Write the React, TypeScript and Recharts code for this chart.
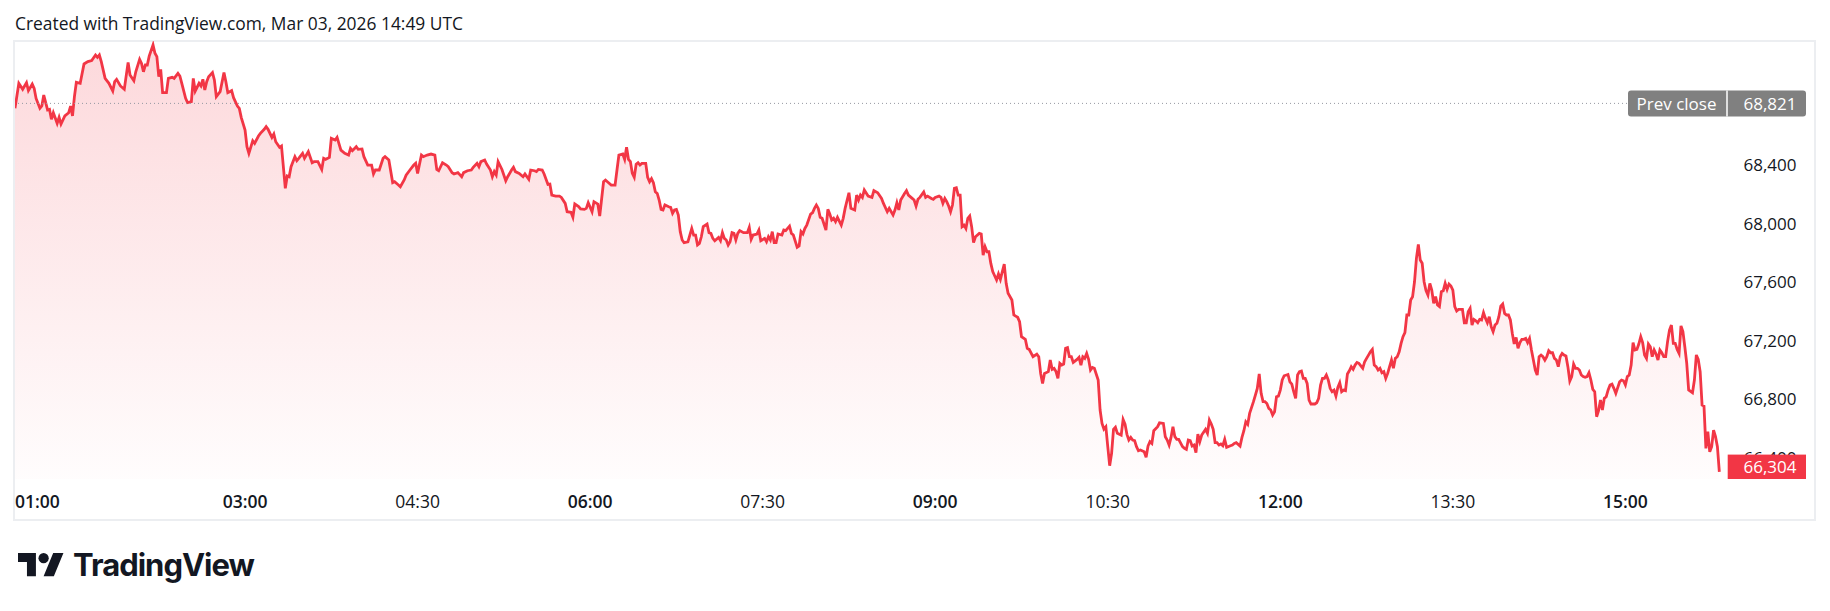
import React from 'react';
import { AreaChart, Area, XAxis, YAxis, ReferenceLine } from 'recharts';

// minutes after midnight (01:00 = 60), one row per ~10 samples
const times = [
  60, 62, 64, 66, 67, 69, 70, 71, 73, 74,
  75, 77, 78, 79, 80, 82, 83, 84, 86, 88,
  89, 90, 91, 92, 94, 96, 98, 100, 102, 103,
  104, 105, 107, 109, 111, 112, 113, 115, 117, 119,
  120, 122, 123, 125, 126, 127, 128, 129, 130, 132,
  133, 134, 135, 136, 137, 139, 140, 142, 143, 145,
  146, 147, 149, 150, 152, 153, 154, 156, 157, 158,
  159, 160, 161, 163, 164, 165, 167, 169, 170, 171,
  173, 174, 176, 177, 178, 180, 181, 182, 184, 185,
  187, 188, 190, 191, 192, 194, 195, 196, 198, 199,
  201, 202, 203, 204, 206, 207, 208, 210, 211, 212,
  213, 215, 216, 218, 220, 221, 222, 224, 225, 227,
  228, 230, 232, 234, 235, 236, 238, 239, 241, 242,
  244, 246, 247, 248, 250, 252, 253, 255, 257, 258,
  260, 261, 263, 264, 266, 268, 269, 270, 272, 273,
  275, 277, 279, 280, 281, 283, 285, 286, 288, 289,
  291, 293, 294, 296, 298, 299, 301, 302, 303, 305,
  306, 308, 309, 310, 311, 312, 314, 316, 317, 319,
  320, 321, 323, 325, 326, 328, 329, 331, 332, 333,
  335, 336, 338, 339, 340, 342, 344, 345, 347, 348,
  350, 351, 352, 354, 355, 357, 358, 359, 361, 362,
  364, 365, 367, 368, 369, 371, 373, 374, 375, 377,
  378, 379, 380, 381, 382, 383, 384, 385, 386, 387,
  389, 390, 391, 392, 393, 394, 395, 396, 397, 398,
  399, 401, 402, 403, 404, 405, 406, 407, 408, 409,
  411, 412, 413, 414, 415, 416, 417, 418, 419, 421,
  422, 423, 424, 425, 427, 428, 429, 430, 431, 432,
  433, 434, 435, 436, 437, 438, 440, 442, 443, 444,
  445, 447, 448, 449, 451, 452, 453, 454, 455, 456,
  457, 458, 460, 461, 462, 464, 465, 466, 468, 469,
  470, 471, 472, 473, 475, 476, 477, 478, 479, 480,
  481, 483, 484, 485, 486, 487, 488, 489, 491, 492,
  493, 495, 496, 498, 499, 500, 501, 502, 503, 505,
  507, 508, 510, 512, 513, 515, 516, 518, 519, 520,
  521, 522, 524, 525, 526, 528, 529, 530, 531, 532,
  534, 535, 536, 538, 539, 540, 542, 543, 544, 545,
  546, 547, 548, 549, 550, 551, 552, 553, 554, 555,
  556, 557, 558, 559, 560, 561, 563, 564, 565, 566,
  567, 568, 569, 570, 572, 573, 574, 576, 577, 578,
  580, 581, 583, 584, 585, 587, 588, 589, 591, 593,
  594, 595, 596, 597, 599, 600, 601, 602, 603, 604,
  605, 606, 607, 608, 609, 610, 611, 612, 614, 615,
  616, 617, 618, 619, 620, 621, 622, 623, 625, 626,
  627, 628, 629, 630, 631, 632, 633, 634, 635, 637,
  638, 639, 640, 641, 642, 643, 644, 645, 646, 647,
  649, 650, 651, 652, 653, 654, 656, 657, 659, 660,
  661, 662, 663, 664, 665, 666, 667, 669, 670, 671,
  672, 673, 674, 675, 676, 677, 678, 679, 681, 682,
  683, 684, 685, 686, 687, 688, 689, 690, 691, 692,
  694, 695, 696, 697, 699, 700, 701, 702, 703, 704,
  706, 707, 708, 709, 710, 711, 712, 713, 714, 715,
  716, 717, 718, 719, 720, 721, 722, 724, 725, 726,
  727, 728, 729, 730, 731, 732, 733, 734, 735, 736,
  738, 739, 740, 741, 742, 743, 744, 745, 746, 747,
  748, 749, 750, 751, 752, 753, 754, 755, 756, 757,
  758, 759, 760, 761, 763, 764, 765, 766, 767, 768,
  769, 770, 771, 772, 773, 774, 775, 776, 777, 778,
  779, 780, 781, 782, 783, 784, 785, 786, 787, 788,
  789, 790, 791, 792, 793, 794, 795, 796, 797, 798,
  799, 800, 801, 802, 803, 804, 805, 806, 807, 808,
  809, 810, 811, 812, 813, 814, 815, 816, 817, 818,
  819, 820, 821, 822, 823, 824, 825, 826, 827, 828,
  829, 830, 831, 832, 833, 834, 835, 836, 837, 838,
  839, 840, 841, 842, 843, 844, 845, 846, 847, 848,
  849, 850, 851, 852, 853, 854, 855, 856, 857, 858,
  859, 860, 861, 862, 863, 864, 865, 866, 867, 868,
  869, 870, 871, 872, 873, 874, 875, 876, 877, 878,
  879, 880, 881, 882, 883, 884, 885, 886, 887, 888,
  889, 890, 891, 892, 893, 894, 895, 897, 898, 899,
  900, 901, 902, 903, 904, 905, 906, 907, 908, 909,
  910, 911, 912, 913, 914, 915, 916, 917, 918, 919,
  920, 921, 922, 923, 924, 925, 926, 927, 928, 929,
  930, 931, 932, 933, 935, 936, 937, 938, 939, 940,
  941, 942, 943, 944, 945, 946, 947, 948, 949,
];

const prices = [
  68787, 68958, 68917, 68962, 68908, 68953, 68924, 68855, 68787, 68803,
  68878, 68776, 68780, 68712, 68757, 68685, 68726, 68680, 68735, 68757,
  68803, 68735, 68867, 68965, 68958, 69090, 69106, 69113, 69151, 69135,
  69151, 69106, 68992, 68958, 68905, 68969, 68985, 68940, 68917, 69101,
  69015, 68976, 69037, 69122, 69094, 69037, 69083, 69083, 69144, 69220,
  69163, 69140, 69003, 69053, 68894, 68894, 68992, 68999, 68992, 69026,
  69008, 68958, 68855, 68826, 68833, 68992, 68905, 68958, 68940, 68985,
  68912, 68969, 69003, 69031, 68981, 68867, 68901, 69031, 68969, 68894,
  68908, 68860, 68803, 68787, 68726, 68639, 68525, 68480, 68566, 68548,
  68598, 68616, 68644, 68662, 68644, 68589, 68612, 68559, 68521, 68530,
  68241, 68325, 68320, 68389, 68457, 68430, 68446, 68480, 68446, 68468,
  68491, 68416, 68423, 68423, 68370, 68446, 68439, 68452, 68582, 68571,
  68589, 68502, 68480, 68468, 68514, 68498, 68525, 68507, 68510, 68457,
  68400, 68400, 68339, 68366, 68366, 68446, 68457, 68434, 68280, 68286,
  68264, 68252, 68298, 68330, 68366, 68400, 68412, 68343, 68468, 68457,
  68468, 68475, 68468, 68370, 68361, 68416, 68400, 68389, 68348, 68339,
  68348, 68320, 68348, 68361, 68366, 68384, 68412, 68389, 68423, 68434,
  68407, 68366, 68320, 68355, 68332, 68423, 68370, 68293, 68320, 68366,
  68384, 68355, 68343, 68320, 68339, 68302, 68366, 68361, 68355, 68370,
  68366, 68339, 68268, 68270, 68195, 68188, 68188, 68179, 68138, 68081,
  68077, 68043, 68134, 68116, 68100, 68097, 68104, 68143, 68081, 68150,
  68134, 68052, 68286, 68297, 68286, 68263, 68263, 68366, 68468, 68475,
  68439, 68521, 68439, 68423, 68343, 68316, 68405, 68416, 68400, 68411,
  68411, 68316, 68286, 68307, 68279, 68218, 68206, 68161, 68097, 68093,
  68127, 68115, 68111, 68070, 68093, 68097, 68059, 67945, 67888, 67870,
  67876, 67922, 67967, 67922, 67922, 67854, 67865, 67910, 67979, 67997,
  67938, 67933, 67899, 67883, 67906, 67883, 67938, 67899, 67888, 67854,
  67876, 67938, 67933, 67888, 67933, 67952, 67938, 67938, 67974, 67892,
  67922, 67929, 67956, 67883, 67899, 67876, 67910, 67888, 67945, 67870,
  67870, 67929, 67922, 67956, 67952, 67983, 67933, 67922, 67838, 67847,
  67945, 67929, 67967, 67990, 68065, 68074, 68104, 68127, 68104, 68043,
  68036, 67956, 68097, 68065, 68024, 68036, 68013, 68043, 67990, 68036,
  68104, 68211, 68104, 68093, 68195, 68161, 68195, 68179, 68229, 68188,
  68179, 68225, 68211, 68172, 68138, 68081, 68104, 68059, 68093, 68143,
  68093, 68161, 68206, 68225, 68195, 68172, 68161, 68120, 68166, 68179,
  68216, 68179, 68188, 68172, 68166, 68179, 68188, 68179, 68138, 68172,
  68150, 68120, 68081, 68127, 68241, 68245, 68195, 68195, 67979, 67990,
  67967, 68036, 68052, 67979, 67870, 67910, 67933, 67929, 67785, 67842,
  67808, 67808, 67728, 67672, 67615, 67656, 67619, 67724, 67592, 67524,
  67478, 67376, 67360, 67330, 67228, 67210, 67148, 67141, 67091, 67109,
  67091, 66977, 66909, 66977, 66989, 67068, 67005, 67012, 66989, 66943,
  67046, 67034, 67041, 67148, 67153, 67091, 67091, 67052, 67073, 67087,
  67034, 67091, 67080, 67114, 67073, 67000, 67018, 67012, 66932, 66727,
  66636, 66597, 66613, 66477, 66347, 66431, 66595, 66609, 66568, 66556,
  66663, 66631, 66561, 66522, 66540, 66522, 66518, 66477, 66449, 66454,
  66442, 66404, 66481, 66511, 66499, 66586, 66613, 66640, 66636, 66545,
  66522, 66488, 66540, 66613, 66545, 66527, 66527, 66477, 66465, 66458,
  66522, 66518, 66481, 66488, 66436, 66563, 66511, 66556, 66595, 66568,
  66659, 66631, 66595, 66504, 66504, 66488, 66495, 66483, 66527, 66472,
  66483, 66488, 66499, 66504, 66481, 66540, 66586, 66647, 66629, 66704,
  66784, 66829, 66875, 66973, 66841, 66784, 66784, 66772, 66738, 66727,
  66693, 66715, 66818, 66822, 66863, 66932, 66961, 66970, 66920, 66904,
  66852, 66807, 66966, 66989, 66993, 66943, 66943, 66909, 66795, 66768,
  66768, 66777, 66807, 66898, 66943, 66943, 66966, 66932, 66875, 66852,
  66863, 66822, 66882, 66914, 66852, 66863, 66859, 66973, 66995, 67023,
  67005, 67034, 67052, 67046, 67012, 67057, 67080, 67102, 67125, 67141,
  67034, 67023, 67000, 67012, 66982, 66989, 66943, 66977, 67023, 67068,
  67012, 67080, 67091, 67125, 67182, 67228, 67255, 67376, 67376, 67478,
  67501, 67603, 67763, 67858, 67751, 67729, 67603, 67542, 67512, 67592,
  67546, 67455, 67501, 67444, 67433, 67535, 67542, 67592, 67551, 67587,
  67574, 67546, 67433, 67403, 67414, 67414, 67414, 67323, 67323, 67398,
  67421, 67307, 67346, 67337, 67323, 67346, 67342, 67392, 67353, 67323,
  67364, 67296, 67262, 67307, 67319, 67364, 67437, 67451, 67387, 67376,
  67376, 67342, 67251, 67178, 67223, 67148, 67187, 67210, 67210, 67216,
  67187, 67216, 67137, 67068, 67000, 66966, 67091, 67102, 67091, 67068,
  67091, 67132, 67118, 67118, 67080, 67068, 67023, 67091, 67114, 67102,
  67096, 67023, 66925, 66955, 67041, 67012, 67012, 67000, 66966, 66955,
  66950, 66955, 66982, 66932, 66868, 66852, 66681, 66722, 66795, 66727,
  66807, 66818, 66864, 66898, 66904, 66875, 66841, 66920, 66932, 66927,
  66898, 66955, 66966, 67034, 67187, 67137, 67141, 67178, 67228, 67187,
  67103, 67080, 67178, 67159, 67091, 67137, 67109, 67068, 67137, 67118,
  67091, 67091, 67194, 67273, 67307, 67182, 67182, 67141, 67114, 67301,
  67262, 67159, 67046, 66864, 66845, 66932, 67103, 67073, 66989, 66761,
  66754, 66465, 66579, 66442, 66477, 66590, 66545, 66477, 66304,
];

const timeTicks = [60, 180, 270, 360, 450, 540, 630, 720, 810, 900];
const priceTicks = [66400, 66800, 67200, 67600, 68000, 68400];
const prevClose = 68821;
const lastPrice = prices[prices.length - 1];
const title = 'Created with TradingView.com, Mar 03, 2026 14:49 UTC';

const data = times.map((t, i) => ({ t, price: prices[i] }));

const FONT = "'Open Sans', sans-serif";
const TEXT = '#131722';
const RED = '#F23645';
const PANE_BOTTOM = 479;
const Y_DOMAIN: [number, number] = [66256, 69247];

const fmtTime = (m: number) =>
  `${String(Math.floor(m / 60)).padStart(2, '0')}:${String(m % 60).padStart(2, '0')}`;
const fmtPrice = (v: number) => v.toLocaleString('en-US');

function TimeTick({ x, y, payload, index }: any) {
  const m = payload.value as number;
  return (
    <text
      x={x}
      y={y + 28.5}
      textAnchor={index === 0 ? 'start' : 'middle'}
      fontFamily={FONT}
      fontSize={17.5}
      fontWeight={m % 60 === 0 ? 600 : 400}
      fill={TEXT}
    >
      {fmtTime(m)}
    </text>
  );
}

function PriceTick({ x, y, payload }: any) {
  return (
    <text x={x + 69.5} y={y} dy="0.36em" textAnchor="end" fontFamily={FONT} fontSize={17} fill={TEXT}>
      {fmtPrice(payload.value)}
    </text>
  );
}

// drawn by a 1px axis placed right of the price scale, so it sits on top of the tick labels
function LastPriceTick({ x, y, payload }: any) {
  const h = 24.4;
  // TradingView keeps the label inside the pane
  const top = Math.min(y - h / 2, PANE_BOTTOM - h);
  return (
    <g>
      <rect x={x - 87.3} y={top} width={78.3} height={h} fill={RED} />
      <text x={x - 18.5} y={top + h / 2} dy="0.36em" textAnchor="end" fontFamily={FONT} fontSize={17} fill="#fff">
        {fmtPrice(payload.value)}
      </text>
    </g>
  );
}

function PrevCloseBadge({ viewBox }: any) {
  const right = viewBox.x + viewBox.width;
  const cy = viewBox.y;
  const h = 26;
  return (
    <g>
      <rect x={right - 99} y={cy - h / 2} width={178} height={h} rx={3} fill="#808080" />
      <line x1={right} x2={right} y1={cy - h / 2} y2={cy + h / 2} stroke="#fff" strokeWidth={1.5} />
      <text x={right - 90.5} y={cy} dy="0.36em" fontFamily={FONT} fontSize={17} fill="#fff">
        Prev close
      </text>
      <text x={right + 69.5} y={cy} dy="0.36em" textAnchor="end" fontFamily={FONT} fontSize={17} fill="#fff">
        {fmtPrice(prevClose)}
      </text>
    </g>
  );
}

function Frame() {
  return (
    <svg style={{ position: 'absolute', left: 0, top: 0 }} width={1830} height={611}>
      <text x={15} y={30} fontFamily={FONT} fontSize={17.4} fill={TEXT}>
        {title}
      </text>
      <rect x={14} y={41} width={1801} height={479} fill="none" stroke="#eceef1" strokeWidth={2} />
      <g transform="translate(18,548) scale(1.28)" fill={TEXT}>
        <path d="M14 22H7V11H0V4h14v18zM28 22h-8l7.5-18h8L28 22z" />
        <circle cx={20} cy={8} r={4} />
      </g>
      <text x={73} y={576} fontFamily="Inter, sans-serif" fontWeight={700} fontSize={31} letterSpacing={-1} fill={TEXT}>
        TradingView
      </text>
    </svg>
  );
}

export default function App() {
  return (
    <div style={{ position: 'absolute', left: 0, top: 0, width: 1830, height: 611, background: '#fff' }}>
      <Frame />
      <div style={{ position: 'absolute', left: 0, top: 0 }}>
        <AreaChart width={1830} height={611} data={data} margin={{ top: 41, right: 14, bottom: 91, left: 15 }}>
          <defs>
            <linearGradient id="areaFill" x1="0" y1="0" x2="0" y2="1">
              <stop offset="0%" stopColor={RED} stopOpacity={0.32} />
              <stop offset="100%" stopColor={RED} stopOpacity={0.02} />
            </linearGradient>
          </defs>
          <XAxis
            dataKey="t"
            type="number"
            domain={[60, 953]}
            ticks={timeTicks}
            interval={0}
            allowDataOverflow
            axisLine={false}
            tickLine={false}
            tickSize={0}
            tickMargin={0}
            height={41}
            tick={<TimeTick />}
          />
          <YAxis
            orientation="right"
            type="number"
            domain={Y_DOMAIN}
            ticks={priceTicks}
            interval={0}
            allowDataOverflow
            axisLine={false}
            tickLine={false}
            tickSize={0}
            tickMargin={0}
            width={88}
            tick={<PriceTick />}
          />
          <YAxis
            yAxisId="last"
            orientation="right"
            type="number"
            domain={Y_DOMAIN}
            ticks={[lastPrice]}
            interval={0}
            allowDataOverflow
            axisLine={false}
            tickLine={false}
            tickSize={0}
            tickMargin={0}
            width={1}
            tick={<LastPriceTick />}
          />
          <Area
            type="linear"
            dataKey="price"
            stroke={RED}
            strokeWidth={2.8}
            fill="url(#areaFill)"
            dot={false}
            activeDot={false}
            isAnimationActive={false}
          />
          <ReferenceLine
            y={prevClose}
            stroke="#9598a1"
            strokeWidth={1}
            strokeDasharray="1 3"
            label={<PrevCloseBadge />}
          />
        </AreaChart>
      </div>
    </div>
  );
}
